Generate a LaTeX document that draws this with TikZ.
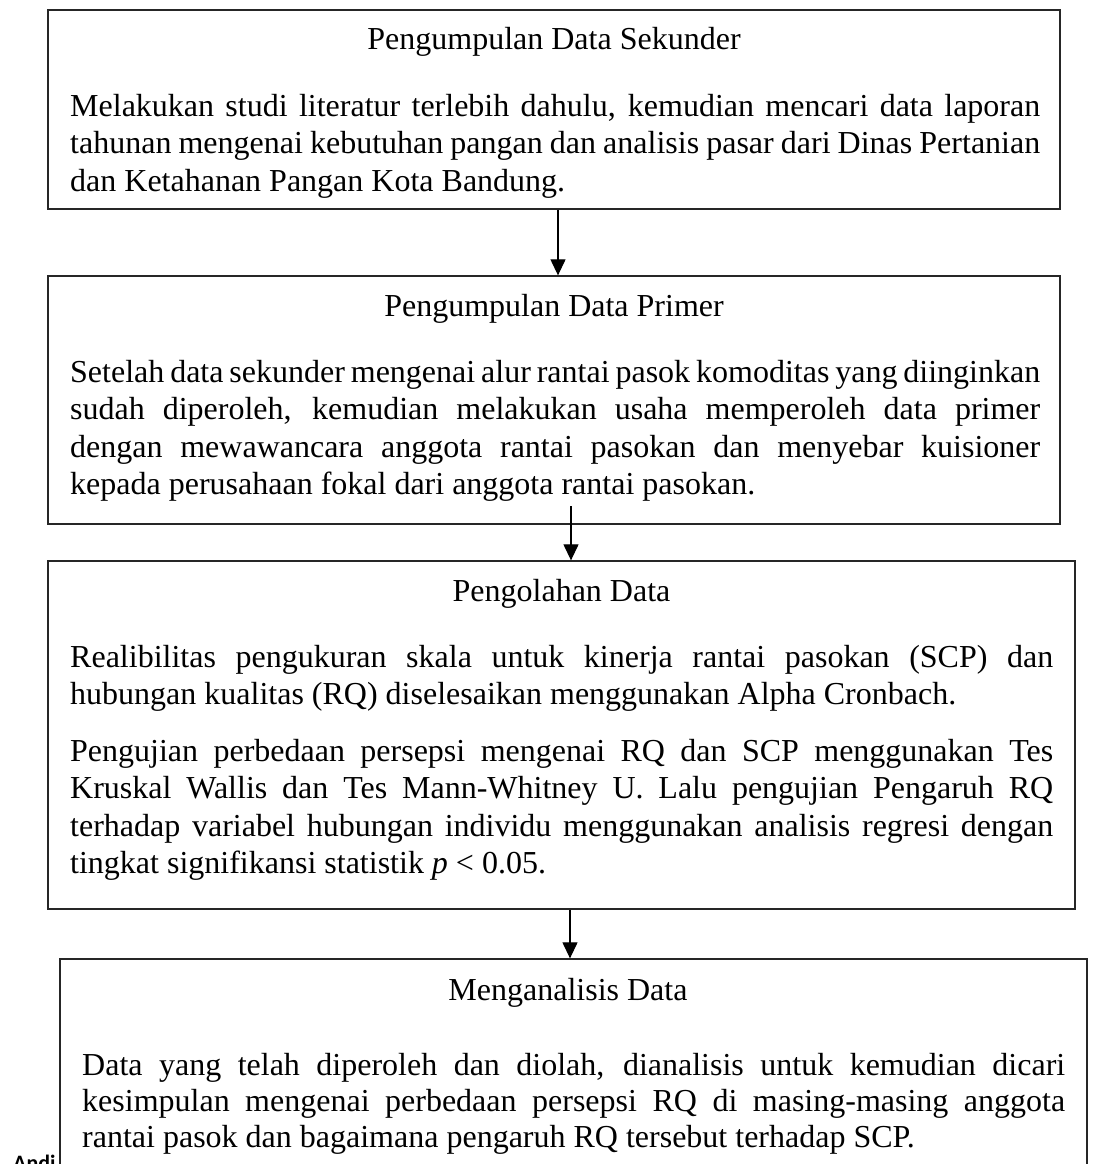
\documentclass[tikz,border=0pt]{standalone}
\usepackage{fontspec}
\setmainfont{Liberation Serif}
\newfontfamily\andifont{Carlito}
\usetikzlibrary{arrows.meta}
\tikzset{
  boxst/.style={draw=black!85, line width=1.3pt, fill=white, inner sep=0pt},
  titlest/.style={inner sep=0pt, anchor=base, font=\fontsize{32}{37.5}\selectfont},
  bodyst/.style={inner sep=0pt, anchor=base west, align=justify, font=\fontsize{32}{37.5}\selectfont},
  arr/.style={line width=1.2pt, -{Triangle[width=15pt,length=16pt]}}
}
\begin{document}
\begin{tikzpicture}[x=1pt,y=-1pt]
\useasboundingbox (0,0) rectangle (1093,1164);
\fill[white] (0,0) rectangle (1093,1164);

% Box 1
\node[boxst, minimum width=1012pt, minimum height=199pt] (b1) at (554,109.5) {};
\node[titlest] (t1) at (554,50) {Pengumpulan Data Sekunder};
\node[bodyst, text width=970pt] (p1) at (70,116) {Melakukan studi literatur terlebih dahulu, kemudian mencari data laporan\linebreak
tahunan mengenai kebutuhan pangan dan analisis pasar dari Dinas Pertanian\linebreak
dan Ketahanan Pangan Kota Bandung.};

% Box 2
\node[boxst, minimum width=1012pt, minimum height=248pt] (b2) at (554,400) {};
\node[titlest] (t2) at (554,316) {Pengumpulan Data Primer};
\node[bodyst, text width=970pt] (p2) at (70,382) {Setelah data sekunder mengenai alur rantai pasok komoditas yang diinginkan\linebreak
sudah diperoleh, kemudian melakukan usaha memperoleh data primer\linebreak
dengan mewawancara anggota rantai pasokan dan menyebar kuisioner\linebreak
kepada perusahaan fokal dari anggota rantai pasokan.};

% Box 3
\node[boxst, minimum width=1027pt, minimum height=348pt] (b3) at (561.5,735) {};
\node[titlest] (t3) at (561.5,601) {Pengolahan Data};
\node[bodyst, text width=983pt] (p3a) at (70,667) {Realibilitas pengukuran skala untuk kinerja rantai pasokan (SCP) dan\linebreak
hubungan kualitas (RQ) diselesaikan menggunakan Alpha Cronbach.};
\node[bodyst, text width=983pt] (p3b) at (70,761) {Pengujian perbedaan persepsi mengenai RQ dan SCP menggunakan Tes\linebreak
Kruskal Wallis dan Tes Mann-Whitney U. Lalu pengujian Pengaruh RQ\linebreak
terhadap variabel hubungan individu menggunakan analisis regresi dengan\linebreak
tingkat signifikansi statistik \textit{p} \textless{} 0.05.};

% Fragment behind box 4
\node[inner sep=0pt, anchor=base west, font=\andifont\bfseries\fontsize{22}{26}\selectfont] (andi) at (13,1170) {Andi};

% Box 4
\node[boxst, minimum width=1027pt, minimum height=241pt] (b4) at (573.5,1079.5) {};
\node[titlest] (t4) at (568,1000) {Menganalisis Data};
\node[bodyst, text width=983pt, font=\fontsize{32}{36}\selectfont] (p4) at (82,1075) {Data yang telah diperoleh dan diolah, dianalisis untuk kemudian dicari\linebreak
kesimpulan mengenai perbedaan persepsi RQ di masing-masing anggota\linebreak
rantai pasok dan bagaimana pengaruh RQ tersebut terhadap SCP.};

% Connectors
\coordinate (a1) at (558,0);
\coordinate (a2s) at (571,506);
\coordinate (a3) at (570,0);
\draw[arr] (b1.south -| a1) -- (b2.north -| a1);
\draw[arr] (a2s) -- (b3.north -| a2s);
\draw[arr] (b3.south -| a3) -- (b4.north -| a3);
\end{tikzpicture}
\end{document}
